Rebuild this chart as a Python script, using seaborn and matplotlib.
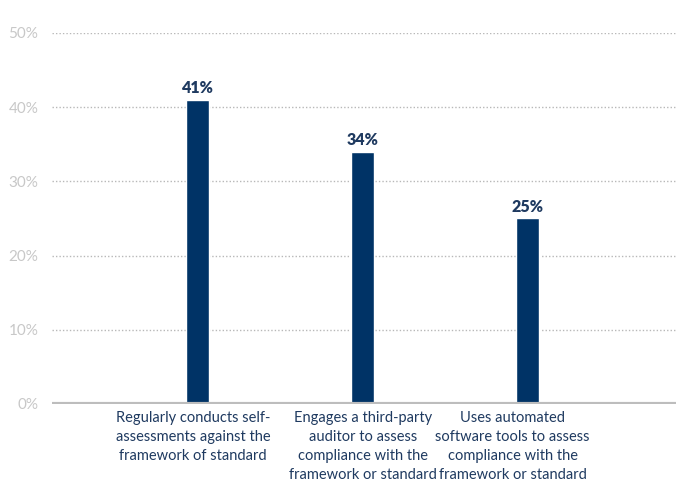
import matplotlib
matplotlib.use("Agg")
import matplotlib.pyplot as plt
import matplotlib.transforms as mtransforms
import seaborn as sns
import pandas as pd

categories = [
    "Regularly conducts self-\nassessments against the\nframework of standard",
    "Engages a third-party\nauditor to assess\ncompliance with the\nframework or standard",
    "Uses automated\nsoftware tools to assess\ncompliance with the\nframework or standard",
]
values = [41, 34, 25]
yticks = [0, 10, 20, 30, 40, 50]

sns.set_theme(style="white")
plt.rcParams["font.family"] = ["Lato", "DejaVu Sans"]

navy = "#003366"
df = pd.DataFrame({"category": categories, "value": values})

fig = plt.figure(figsize=(6.76, 4.82), dpi=100)
ax = fig.add_axes([0.077, 0.162, 0.923, 0.7697])

sns.barplot(data=df, x="category", y="value", color=navy, width=0.14,
            saturation=1, ax=ax, zorder=3)

ax.set_xlim(-0.885, 2.9)
ax.set_ylim(0, 50)
ax.set_yticks(yticks)
ax.set_yticklabels([f"{t}%" for t in yticks], color="#c8c8c8", fontsize=11)
ax.tick_params(axis="y", length=0, pad=10)
ax.tick_params(axis="x", length=0, pad=5)

for t in yticks[1:]:
    ax.axhline(t, color="#b8b8b8", lw=1, ls=(0, (1, 1.5)), zorder=1)
ax.axhline(0, color="#bdbdbd", lw=3, zorder=4)

for s in ax.spines.values():
    s.set_visible(False)

ax.set_xlabel("")
ax.set_ylabel("")
ax.set_xticks(range(len(categories)))
ax.set_xticklabels(categories, color="#1f3a60", fontsize=10.5, linespacing=1.45,
                   va="top", ha="center")
shifts = [-5, 0, -15]
for lbl, dx in zip(ax.get_xticklabels(), shifts):
    lbl.set_transform(lbl.get_transform() +
                      mtransforms.ScaledTranslation(dx / 100, 0, fig.dpi_scale_trans))

for bar, v in zip(ax.patches, values):
    ax.annotate(f"{v}%", (bar.get_x() + bar.get_width() / 2, v),
                xytext=(0, 2.5), textcoords="offset points", ha="center",
                va="bottom", fontsize=11.5, fontweight="heavy", color="#1f3a60")

fig.savefig("out.png", dpi=100)
